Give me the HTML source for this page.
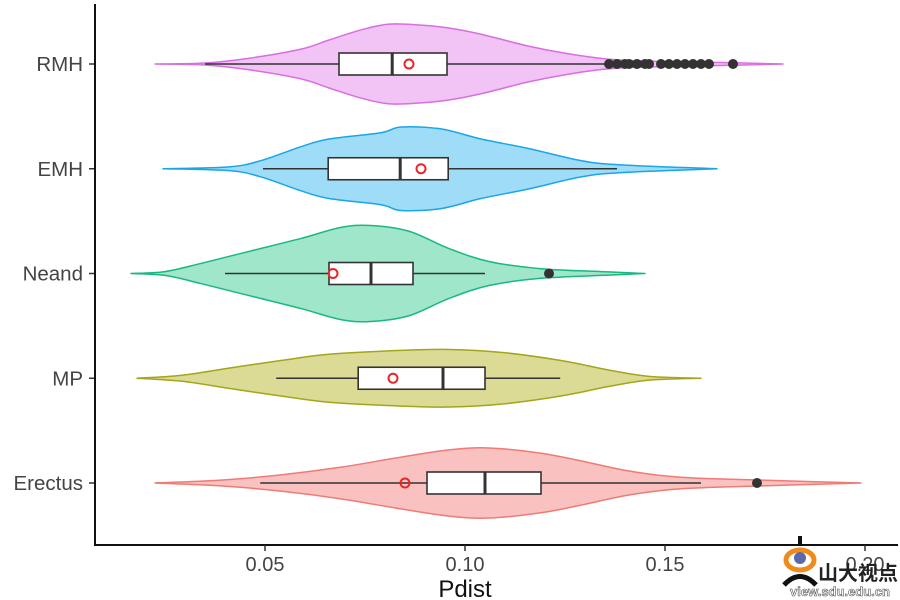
<!DOCTYPE html>
<html><head><meta charset="utf-8"><style>
body{margin:0;background:#fff;}
svg{display:block;font-family:"Liberation Sans","Noto Sans CJK SC",sans-serif;}
</style></head><body>
<svg id="chart" width="900" height="600"></svg>
<script>
const groups = ["RMH","EMH","Neand","MP","Erectus"];
const fills = ["#f2c3f5","#9fdcf7","#9fe6cb","#dbdb96","#f9c2c0"];
const strokes = ["#d96ee3","#1aa6e6","#1ab87f","#a3a51a","#ef7b76"];
const densX = [
 [0.0225,0.035,0.046,0.059,0.066,0.074,0.081,0.089,0.096,0.104,0.116,0.126,0.136,0.146,0.159,0.1795],
 [0.0245,0.041,0.049,0.059,0.066,0.079,0.084,0.094,0.104,0.116,0.129,0.139,0.163],
 [0.0165,0.025,0.034,0.046,0.059,0.069,0.0765,0.086,0.096,0.106,0.119,0.134,0.145],
 [0.018,0.029,0.041,0.054,0.066,0.084,0.096,0.109,0.124,0.136,0.146,0.159],
 [0.0225,0.039,0.054,0.069,0.084,0.096,0.106,0.119,0.129,0.141,0.154,0.174,0.199]
];
const densY = [
 [0,0.02,0.12,0.31,0.5,0.71,0.83,0.81,0.75,0.62,0.37,0.21,0.1,0.06,0.04,0],
 [0,0.04,0.17,0.46,0.62,0.75,0.87,0.83,0.62,0.42,0.17,0.08,0],
 [0,0.04,0.21,0.46,0.73,0.96,1,0.88,0.52,0.25,0.1,0.04,0],
 [0,0.06,0.21,0.37,0.5,0.58,0.6,0.54,0.37,0.17,0.04,0],
 [0,0.06,0.17,0.33,0.54,0.69,0.73,0.62,0.46,0.25,0.12,0.06,0]
];
const q1 = [0.0685,0.0658,0.066,0.0733,0.0905];
const med = [0.0818,0.0838,0.0765,0.0945,0.105];
const q3 = [0.0955,0.0958,0.087,0.105,0.119];
const whLo = [0.035,0.0495,0.04,0.0528,0.0488];
const whHi = [0.1355,0.138,0.105,0.1238,0.159];
const means = [0.086,0.089,0.067,0.082,0.085];
const outliers = [
 [0.136,0.138,0.140,0.141,0.143,0.145,0.146,0.149,0.151,0.153,0.155,0.157,0.159,0.161,0.167],
 [],[0.121],[],[0.173]
];
const xTicks = [0.05,0.10,0.15,0.20];
const xTickLabels = ["0.05","0.10","0.15","0.20"];

const NS="http://www.w3.org/2000/svg";
const svg=document.getElementById('chart');
const X=v=>465+(v-0.10)*4000;
const Y=i=>64+i*104.75;
const DSCALE=48;
function mk(t,a,p){const e=document.createElementNS(NS,t);for(const k in a)e.setAttribute(k,a[k]);(p||svg).appendChild(e);return e;}
function smooth(pts){
  let d='M'+pts[0][0]+','+pts[0][1];
  for(let i=0;i<pts.length-1;i++){
    const p0=pts[i-1]||pts[i],p1=pts[i],p2=pts[i+1],p3=pts[i+2]||p2;
    const c1=[p1[0]+(p2[0]-p0[0])/6,p1[1]+(p2[1]-p0[1])/6];
    const c2=[p2[0]-(p3[0]-p1[0])/6,p2[1]-(p3[1]-p1[1])/6];
    d+=' C'+c1+' '+c2+' '+p2;
  }
  return d;
}

groups.forEach((g,i)=>{
  const gEl=mk('g',{});
  
  
  const cy=Y(i);
  const top=densX[i].map((v,j)=>[X(v),cy-densY[i][j]*DSCALE]);
  const bot=densX[i].map((v,j)=>[X(v),cy+densY[i][j]*DSCALE]).reverse();
  const d=smooth(top)+' L'+bot[0]+' '+smooth(bot).slice(1)+' Z';
  const poly=mk('path',{d:d,fill:fills[i],stroke:strokes[i],'stroke-width':1.5,'stroke-linejoin':'round'},gEl);
  
  
  const wl=mk('line',{x1:X(whLo[i]),x2:X(whHi[i]),y1:cy,y2:cy,stroke:'#333','stroke-width':1.6},gEl);
  
  
  const bx=mk('rect',{x:X(q1[i]),y:cy-11,width:X(q3[i])-X(q1[i]),height:22,fill:'#fff',stroke:'#333','stroke-width':1.6},gEl);
  
  
  const md=mk('line',{x1:X(med[i]),x2:X(med[i]),y1:cy-11,y2:cy+11,stroke:'#333','stroke-width':3},gEl);
  
  
  outliers[i].forEach(o=>{
    const c=mk('circle',{cx:X(o),cy:cy,r:5,fill:'#333'},gEl);
    
    
  });
  const mn=mk('circle',{cx:X(means[i]),cy:cy,r:4.5,fill:'none',stroke:'#e8262a','stroke-width':2},gEl);
  
  
  const tk=mk('line',{x1:89,x2:95,y1:cy,y2:cy,stroke:'#333','stroke-width':1.5});
  
  
  const lb=mk('text',{x:83,y:cy+7,'text-anchor':'end','font-size':20.5,fill:'#444'});
  lb.textContent=g;
  
  
});
const ya=mk('line',{x1:95,x2:95,y1:4,y2:546,stroke:'#111','stroke-width':2});


const xa=mk('line',{x1:94,x2:898,y1:545,y2:545,stroke:'#111','stroke-width':2});


xTicks.forEach((t,j)=>{
  const l=mk('line',{x1:X(t),x2:X(t),y1:545,y2:551,stroke:'#333','stroke-width':1.5});
  
  
  const tx=mk('text',{x:X(t),y:571,'text-anchor':'middle','font-size':20,fill:'#444'});
  tx.textContent=xTickLabels[j];
  
  
});
const xt=mk('text',{x:465,y:597,'text-anchor':'middle','font-size':24,fill:'#111'});
xt.textContent='Pdist';


// watermark
const wm=mk('g',{});


mk('ellipse',{cx:800,cy:560,rx:14,ry:10,fill:'none',stroke:'#f08a1c','stroke-width':5},wm);
mk('circle',{cx:800,cy:558,r:6,fill:'#5a6aa8'},wm);
mk('path',{d:'M784 585 Q800 568 816 585',fill:'none',stroke:'#111','stroke-width':5},wm);
mk('line',{x1:800,y1:536,x2:800,y2:546,stroke:'#111','stroke-width':4},wm);
const wt=mk('text',{x:818,y:580,'font-size':20,'font-weight':'bold',fill:'#222'},wm);
wt.textContent='山大视点';
const wu=mk('text',{x:790,y:596,'font-size':13,'font-weight':'bold',fill:'#fff',stroke:'#555','stroke-width':0.6},wm);
wu.textContent='view.sdu.edu.cn';
</script>
</body></html>
